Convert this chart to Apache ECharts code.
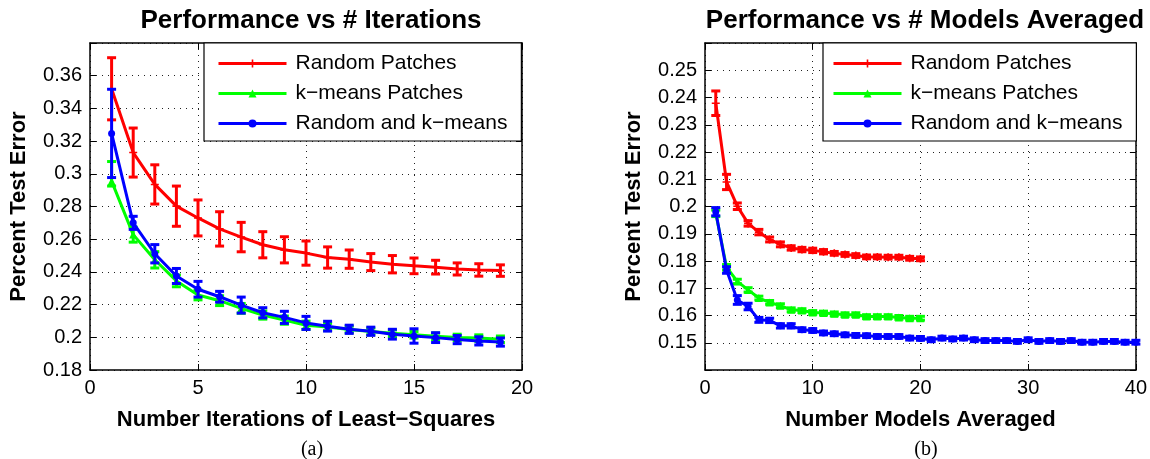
<!DOCTYPE html>
<html>
<head>
<meta charset="utf-8">
<script src="https://cdn.jsdelivr.net/npm/echarts@6/dist/echarts.min.js"></script>
<style>
html,body{margin:0;padding:0;background:#fff;}
#chart{width:1150px;height:459px;}
</style>
</head>
<body>
<div id="chart"></div>
<script>
// ---------- data ----------
const seriesNames = ['Random Patches', 'k\u2212means Patches', 'Random and k\u2212means'];

// (a) Performance vs # Iterations
const iterX = [1,2,3,4,5,6,7,8,9,10,11,12,13,14,15,16,17,18,19];
const iterRandom    = [0.352,0.313,0.2935,0.2802,0.273,0.2663,0.2613,0.2566,0.2535,0.2515,0.2488,0.2478,0.246,0.2447,0.2437,0.2429,0.2418,0.2412,0.2408];
const iterRandomErr = [0.019,0.015,0.012,0.0123,0.011,0.0105,0.009,0.008,0.008,0.0074,0.0065,0.0056,0.0052,0.0053,0.0048,0.0042,0.0037,0.0038,0.0035];
const iterKmeans    = [0.2955,0.2628,0.2474,0.2345,0.2259,0.2224,0.2177,0.2136,0.2105,0.2074,0.2063,0.2048,0.2036,0.2025,0.2015,0.2006,0.1999,0.1995,0.1988];
const iterKmeansErr = [[0.003,0.012],0.0046,0.005,0.0036,0.003,0.003,0.003,0.0025,0.0025,0.0025,0.0022,0.002,0.002,0.002,0.002,0.002,0.002,0.002,0.002];
const iterBoth      = [0.3247,0.27,0.2511,0.2375,0.2294,0.2248,0.2197,0.215,0.2122,0.2088,0.2068,0.2049,0.2037,0.2019,0.2008,0.1998,0.1986,0.1978,0.1971];
const iterBothErr   = [0.027,0.004,0.0056,0.0046,0.0048,0.0033,0.0049,0.0031,0.0037,0.004,0.003,0.0025,0.0025,0.003,0.0044,0.003,0.0025,0.0025,0.0025];

// (b) Performance vs # Models Averaged
const modelsX = [1,2,3,4,5,6,7,8,9,10,11,12,13,14,15,16,17,18,19,20,21,22,23,24,25,26,27,28,29,30,31,32,33,34,35,36,37,38,39,40];
const modelsRandom    = [0.2379,0.209,0.2001,0.1938,0.1906,0.1879,0.1861,0.1848,0.1842,0.1839,0.1834,0.1828,0.1824,0.182,0.1815,0.1815,0.1814,0.1814,0.181,0.1808];
const modelsRandomErr = [0.0045,0.0028,0.0012,0.001,0.001,0.0009,0.0009,0.0008,0.0008,0.0008,0.0008,0.0007,0.0007,0.0007,0.0007,0.0007,0.0007,0.0007,0.0007,0.0007];
const modelsKmeans    = [0.1975,0.1777,0.1725,0.1694,0.1664,0.1648,0.1636,0.1621,0.1618,0.1611,0.1609,0.1606,0.1603,0.1603,0.1596,0.1596,0.1596,0.1593,0.159,0.159];
const modelsKmeansErr = [0.0012,0.001,0.0008,0.0008,0.0007,0.0007,0.0007,0.0007,0.0007,0.0007,0.0007,0.0007,0.0007,0.0007,0.0007,0.0007,0.0007,0.0007,0.0007,0.0007];
const modelsBoth      = [0.1981,0.1767,0.1657,0.1633,0.1584,0.1582,0.1562,0.1562,0.1548,0.1545,0.1536,0.1533,0.1529,0.1527,0.1526,0.1523,0.1523,0.1523,0.1517,0.1516,0.1511,0.1517,0.1514,0.1517,0.1511,0.1508,0.1508,0.1508,0.1505,0.1511,0.1505,0.1508,0.1505,0.1508,0.1502,0.1502,0.1505,0.1505,0.1502,0.1502];
const modelsBothErr   = [0.0015,0.0012,0.0016,0.0012,0.0009,0.0008,0.0008,0.0008,0.0007,0.0007,0.0007,0.0007,0.0007,0.0007,0.0007,0.0007,0.0007,0.0007,0.0007,0.0007,0.0007,0.0007,0.0007,0.0007,0.0007,0.0007,0.0007,0.0007,0.0007,0.0007,0.0007,0.0007,0.0007,0.0007,0.0007,0.0007,0.0007,0.0007,0.0007,0.0007];

// ---------- styling ----------
const FONT = 'Liberation Sans, Arial, Helvetica, sans-serif';
const colors = ['#ff0000', '#00ff00', '#0000ff'];
const plusPath = 'path://M4,0h2v4h4v2h-4v4h-2v-4h-4v-2h4z';
const symbols = [plusPath, 'triangle', 'circle'];
const symbolSizes = [8, 8, 7];

function pairs(xs, ys) { return ys.map((y, i) => [xs[i], y]); }
function errData(xs, ys, errs) {
  return ys.map((y, i) => {
    const e = errs[i];
    const dn = Array.isArray(e) ? e[0] : e;
    const up = Array.isArray(e) ? e[1] : e;
    return [xs[i], y - dn, y + up];
  });
}
function makeErrRender(color, capHalf) {
  return function (params, api) {
    const x = api.value(0);
    const pLo = api.coord([x, api.value(1)]);
    const pHi = api.coord([x, api.value(2)]);
    const style = { stroke: color, lineWidth: 3, fill: null };
    return {
      type: 'group',
      children: [
        { type: 'line', shape: { x1: pLo[0], y1: pLo[1], x2: pHi[0], y2: pHi[1] }, style },
        { type: 'line', shape: { x1: pLo[0] - capHalf, y1: pLo[1], x2: pLo[0] + capHalf, y2: pLo[1] }, style },
        { type: 'line', shape: { x1: pHi[0] - capHalf, y1: pHi[1], x2: pHi[0] + capHalf, y2: pHi[1] }, style }
      ]
    };
  };
}

const gridSpec = [
  { left: 90, right: 628, top: 43, bottom: 89 },
  { left: 705, right: 14, top: 43, bottom: 89 }
];
const xRange = [{ min: 0, max: 20, interval: 5 }, { min: 0, max: 40, interval: 10 }];
const yRange = [{ min: 0.18, max: 0.38, interval: 0.02 }, { min: 0.14, max: 0.26, interval: 0.01 }];
const yHidden = [[0.38], [0.14, 0.26]];

const dotted = { color: '#222', type: [1, 5], width: 1 };
const tickStyle = { show: true, inside: true, length: 6, lineStyle: { color: '#000', width: 1 } };
const axisLineStyle = { show: true, onZero: false, lineStyle: { color: '#000', width: 1.5 } };

const xAxes = [], yAxes = [];
[0, 1].forEach(g => {
  xAxes.push({
    type: 'value', gridIndex: g, position: 'bottom', ...xRange[g],
    name: g === 0 ? 'Number Iterations of Least\u2212Squares' : 'Number Models Averaged',
    nameLocation: 'middle', nameGap: 39,
    nameTextStyle: { fontFamily: FONT, fontWeight: 'bold', fontSize: 22, color: '#000' },
    axisLine: axisLineStyle, axisTick: tickStyle,
    axisLabel: { show: true, margin: 8, fontFamily: FONT, fontSize: 20, color: '#000' },
    splitLine: { show: true, lineStyle: dotted }
  });
  xAxes.push({
    type: 'value', gridIndex: g, position: 'top', ...xRange[g],
    axisLine: axisLineStyle, axisTick: tickStyle, axisLabel: { show: false }, splitLine: { show: false }
  });
  const hidden = yHidden[g];
  yAxes.push({
    type: 'value', gridIndex: g, position: 'left', ...yRange[g],
    name: 'Percent Test Error', nameLocation: 'middle', nameGap: 60,
    nameTextStyle: { fontFamily: FONT, fontWeight: 'bold', fontSize: 22, color: '#000' },
    axisLine: axisLineStyle, axisTick: tickStyle,
    axisLabel: {
      show: true, margin: 8, fontFamily: FONT, fontSize: 20, color: '#000',
      formatter: v => hidden.some(h => Math.abs(h - v) < 1e-9) ? '' : String(+(+v).toFixed(2))
    },
    splitLine: { show: true, lineStyle: dotted }
  });
  yAxes.push({
    type: 'value', gridIndex: g, position: 'right', ...yRange[g],
    axisLine: axisLineStyle, axisTick: tickStyle, axisLabel: { show: false }, splitLine: { show: false }
  });
});

const panels = [
  { xs: iterX, means: [iterRandom, iterKmeans, iterBoth], errs: [iterRandomErr, iterKmeansErr, iterBothErr], cap: 4.5 },
  { xs: modelsX, means: [modelsRandom, modelsKmeans, modelsBoth], errs: [modelsRandomErr, modelsKmeansErr, modelsBothErr], cap: 4.5 }
];
const series = [];
panels.forEach((p, g) => {
  p.means.forEach((m, k) => {
    const xs = p.xs.slice(0, m.length);
    series.push({
      type: 'custom', name: 'err' + g + k, xAxisIndex: 2 * g, yAxisIndex: 2 * g,
      renderItem: makeErrRender(colors[k], p.cap),
      encode: { x: 0, y: [1, 2] },
      data: errData(xs, m, p.errs[k]), z: 2 + k * 2, silent: true
    });
    series.push({
      type: 'line', name: seriesNames[k], xAxisIndex: 2 * g, yAxisIndex: 2 * g,
      data: pairs(xs, m), showSymbol: true, symbol: symbols[k], symbolSize: symbolSizes[k],
      itemStyle: { color: colors[k] }, lineStyle: { color: colors[k], width: 3 },
      z: 3 + k * 2, silent: true
    });
  });
});

const legendBase = {
  orient: 'vertical', top: 43, itemWidth: 68, itemHeight: 10, itemGap: 9,
  backgroundColor: '#fff', borderColor: '#000', borderWidth: 1.2, borderRadius: 0,
  textStyle: { fontFamily: FONT, fontSize: 21, color: '#000', padding: [0, 0, 0, 4] },
  lineStyle: { width: 3 },
  data: seriesNames, selectedMode: false
};

const option = {
  animation: false,
  backgroundColor: '#fff',
  title: [
    { text: 'Performance vs # Iterations', left: 306, top: 3, textAlign: 'center',
      textStyle: { fontFamily: FONT, fontWeight: 'bold', fontSize: 26, color: '#000' } },
    { text: 'Performance vs # Models Averaged', left: 920, top: 3, textAlign: 'center',
      textStyle: { fontFamily: FONT, fontWeight: 'bold', fontSize: 26, color: '#000' } },
    { text: '(a)', left: 307, top: 435, textAlign: 'center',
      textStyle: { fontFamily: 'Liberation Serif, Times New Roman, serif', fontWeight: 'normal', fontSize: 20, color: '#000' } },
    { text: '(b)', left: 921, top: 435, textAlign: 'center',
      textStyle: { fontFamily: 'Liberation Serif, Times New Roman, serif', fontWeight: 'normal', fontSize: 20, color: '#000' } }
  ],
  grid: gridSpec,
  xAxis: xAxes,
  yAxis: yAxes,
  legend: [
    { ...legendBase, left: 204, padding: [10, 14, 7, 13] },
    { ...legendBase, left: 823, padding: [10, 14, 7, 9] }
  ],
  series
};

const chart = echarts.init(document.getElementById('chart'), null, { renderer: 'canvas' });
chart.setOption(option);
</script>
</body>
</html>
